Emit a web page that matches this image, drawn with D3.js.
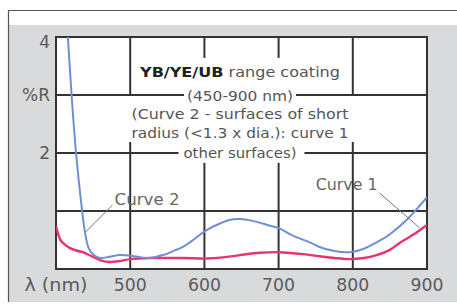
<!DOCTYPE html>
<html><head><meta charset="utf-8">
<script src="https://cdn.jsdelivr.net/npm/d3@7"></script>
<style>html,body{margin:0;padding:0;background:#fff;}svg{display:block;}</style>
</head><body>
<script>
// ---- data ----
const xTicks = [400, 500, 600, 700, 800, 900];
const xTickLabels = ["λ (nm)", "500", "600", "700", "800", "900"];
const yTicks = [4, 3, 2];
const yTickLabels = ["4", "%R", "2"];
const hGrid = [3, 2, 1];
const vGrid = [500, 600, 700, 800];

// Curve 2 (blue) - surfaces of short radius
const curve2WL = [416,421,427,433,439,444,451,459,472,486,500,515,527,544,560,571,585,595,603,620,635,648,665,685,701,720,742,755,775,796,815,832,850,872,900];
const curve2R  = [4.0,3.0,2.0,1.25,0.64,0.36,0.24,0.19,0.21,0.24,0.23,0.2,0.19,0.24,0.32,0.38,0.5,0.6,0.67,0.78,0.85,0.86,0.83,0.76,0.7,0.57,0.46,0.38,0.31,0.29,0.35,0.46,0.6,0.84,1.24];
// Curve 1 (pink) - other surfaces
const curve1WL = [400,403,406,412,419,427,436,443,450,460,473,487,500,527,571,603,625,648,675,701,730,755,775,796,815,832,850,863,880,900];
const curve1R  = [0.74,0.6,0.5,0.42,0.36,0.32,0.29,0.25,0.21,0.15,0.12,0.14,0.17,0.19,0.19,0.18,0.2,0.24,0.28,0.29,0.26,0.22,0.19,0.17,0.19,0.24,0.33,0.45,0.58,0.76];

const titleLines = ["(450-900 nm)", "(Curve 2 - surfaces of short", "radius (<1.3 x dia.): curve 1", "other surfaces)"];

// ---- layout ----
const W = 457, H = 306;
const svg = d3.select("body").append("svg").attr("width", W).attr("height", H);
const x = d3.scaleLinear().domain([400, 900]).range([56, 427]);
const y = d3.scaleLinear().domain([0, 4]).range([269, 37]);

// frame
svg.append("rect").attr("x", 9).attr("y", 25).attr("width", W - 9).attr("height", 277).attr("fill", "#d9dadb");
svg.append("line").attr("x1", 8).attr("x2", W).attr("y1", 10.5).attr("y2", 10.5).attr("stroke", "#555").attr("stroke-width", 1.2);
svg.append("line").attr("x1", 8.5).attr("x2", 8.5).attr("y1", 10).attr("y2", 302).attr("stroke", "#555").attr("stroke-width", 1.2);

// plot bg
svg.append("rect").attr("x", x(400)).attr("y", y(4)).attr("width", x(900) - x(400)).attr("height", y(0) - y(4)).attr("fill", "#fff");

const gridColor = "#333", gw = 2;
const g = svg.append("g");

// text block
const tx = 240;
const txtColor = "#555";
const tb = svg.append("g").attr("font-family", "'DejaVu Sans', sans-serif").attr("fill", txtColor).attr("font-size", 13.5);
const t1 = tb.append("text").attr("x", tx).attr("y", 72).attr("text-anchor", "middle").attr("dominant-baseline", "central")
  .attr("textLength", 200).attr("lengthAdjust", "spacingAndGlyphs");
t1.append("tspan").attr("font-weight", "bold").attr("fill", "#222").text("YB/YE/UB");
t1.append("tspan").text(" range coating");
const lineYs = [95.5, 114, 133, 152.5];
const lineLens = [106, 217, 217, 113];
const texts = titleLines.map((s, i) => tb.append("text").attr("x", tx).attr("y", lineYs[i]).attr("text-anchor", "middle")
  .attr("dominant-baseline", "central").attr("textLength", lineLens[i]).attr("lengthAdjust", "spacingAndGlyphs").text(s));

// gridlines with gaps around text
function hseg(v, a, b) {
  g.append("line").attr("x1", a).attr("x2", b).attr("y1", y(v)).attr("y2", y(v)).attr("stroke", gridColor).attr("stroke-width", gw);
}
function vseg(w, a, b) {
  g.append("line").attr("x1", x(w)).attr("x2", x(w)).attr("y1", y(a)).attr("y2", y(b)).attr("stroke", gridColor).attr("stroke-width", gw);
}
const pad = 3;
const gap3 = [tx - lineLens[0] / 2 - pad, tx + lineLens[0] / 2 + pad];
const gap2 = [tx - lineLens[3] / 2 - pad - 2, tx + lineLens[3] / 2 + pad + 5];
hseg(3, x(400), gap3[0]); hseg(3, gap3[1], x(900));
hseg(2, x(400), gap2[0]); hseg(2, gap2[1], x(900));
hseg(1, x(400), x(900));
// verticals: 500/800 broken between 3 and ~2.19, 600/700 broken between ~3.64 and ~1.83
const vBreaks = { 500: [3, 2.19], 600: [3.64, 1.83], 700: [3.64, 1.83], 800: [3, 2.19] };
vGrid.forEach(w => { vseg(w, 4, vBreaks[w][0]); vseg(w, vBreaks[w][1], 0); });

// border
svg.append("rect").attr("x", x(400)).attr("y", y(4)).attr("width", x(900) - x(400)).attr("height", y(0) - y(4))
  .attr("fill", "none").attr("stroke", gridColor).attr("stroke-width", gw);

// curves
const line = d3.line().x(d => x(d[0])).y(d => y(d[1])).curve(d3.curveCatmullRom.alpha(0.5));
const clip = svg.append("clipPath").attr("id", "c").append("rect").attr("x", x(400)).attr("y", y(4)).attr("width", x(900) - x(400)).attr("height", y(0) - y(4));
svg.append("path").datum(d3.zip(curve1WL, curve1R)).attr("d", line).attr("fill", "none").attr("stroke", "#e8336e").attr("stroke-width", 2.4).attr("clip-path", "url(#c)");
svg.append("path").datum(d3.zip(curve2WL, curve2R)).attr("d", line).attr("fill", "none").attr("stroke", "#6e8fd6").attr("stroke-width", 2).attr("clip-path", "url(#c)");

// curve labels + leaders
const ann = svg.append("g").attr("font-family", "'DejaVu Sans', sans-serif").attr("fill", "#666").attr("font-size", 15);
const labels = [
  { t: "Curve 2", at: [479, 1.19], from: [476, 1.10], to: [440, 0.64], len: 65 },
  { t: "Curve 1", at: [750, 1.45], from: [836, 1.31], to: [890, 0.71], len: 62 }
];
labels.forEach(l => {
  ann.append("text").attr("x", x(l.at[0])).attr("y", y(l.at[1])).attr("dominant-baseline", "central")
    .attr("textLength", l.len).attr("lengthAdjust", "spacingAndGlyphs").text(l.t);
  ann.append("line").attr("x1", x(l.from[0])).attr("y1", y(l.from[1])).attr("x2", x(l.to[0])).attr("y2", y(l.to[1]))
    .attr("stroke", "#777").attr("stroke-width", 1);
});

// axes labels
const ax = svg.append("g").attr("font-family", "'DejaVu Sans', sans-serif").attr("fill", "#5a5a5a").attr("font-size", 17);
xTicks.forEach((v, i) => {
  ax.append("text").attr("x", x(v)).attr("y", 285).attr("text-anchor", "middle").attr("dominant-baseline", "central")
    .attr("textLength", i === 0 ? 63 : 33).attr("lengthAdjust", "spacingAndGlyphs").text(xTickLabels[i]);
});
yTicks.forEach((v, i) => {
  ax.append("text").attr("x", 50).attr("y", y(v) + (i === 0 ? 4.5 : 0)).attr("text-anchor", "end").attr("dominant-baseline", "central").text(yTickLabels[i]);
});
</script>
</body></html>
